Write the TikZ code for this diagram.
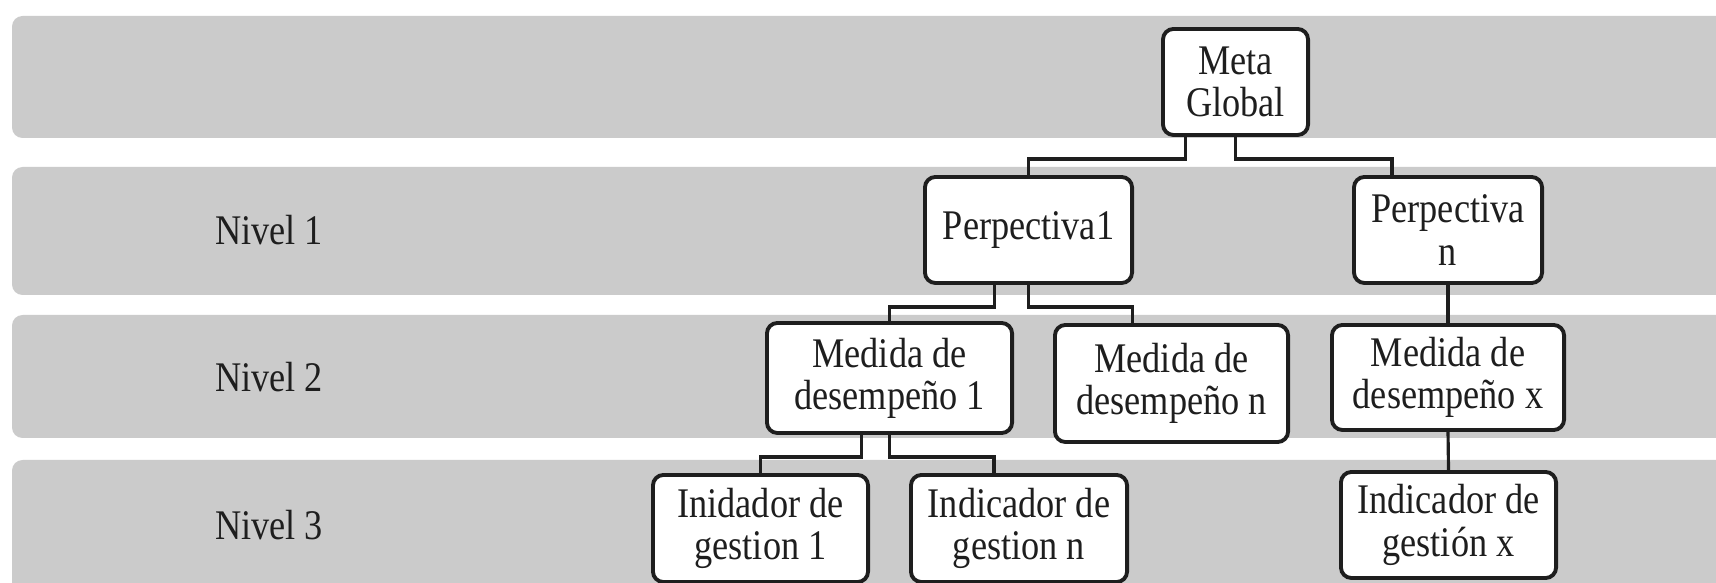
\documentclass[tikz,border=0pt]{standalone}
\usepackage{fontspec}
\setmainfont{Liberation Serif}[FakeStretch=0.86]
\usepackage{tikz}
\usetikzlibrary{calc}
\definecolor{bandgray}{HTML}{CBCBCB}
\definecolor{inkgray}{HTML}{1E1E1E}
\tikzset{
  box/.style={draw=inkgray, line width=1.1pt, rounded corners=3pt, fill=white,
    align=center, inner sep=0pt, text=inkgray, font=\fontsize{12}{12}\selectfont},
  link/.style={draw=inkgray, line width=0.9pt},
  levellabel/.style={text=inkgray, font=\fontsize{12}{12}\selectfont}
}

\begin{document}
\begin{tikzpicture}[x=0.01cm, y=-0.01cm]
  \useasboundingbox (0,0) rectangle (1716,583);
  \clip (0,0) rectangle (1716,583);

  % --- Level bands ---
  \foreach \ya/\yb in {16/138, 167/295, 315/438, 460/640}
    \fill[bandgray, rounded corners=3pt] (12,\ya) rectangle (1780,\yb);

  % --- Level labels ---
  \node[levellabel] (lvl1) at (269,230) {Nivel 1};
  \node[levellabel] (lvl2) at (269,377) {Nivel 2};
  \node[levellabel] (lvl3) at (269,525) {Nivel 3};

  % --- Boxes ---
  \node[box, minimum width=1.45cm, minimum height=1.06cm] (meta)  at (1235.5,82)    {Meta\\Global};
  \node[box, minimum width=2.07cm, minimum height=1.06cm] (perp1) at (1028.5,230)   {Perpectiva1};
  \node[box, minimum width=1.88cm, minimum height=1.06cm] (perpn) at (1448,230)     {Perpectiva\\n};
  \node[box, minimum width=2.45cm, minimum height=1.10cm] (med1)  at (889.5,378)    {Medida de\\desempeño 1};
  \node[box, minimum width=2.33cm, minimum height=1.17cm] (medn)  at (1171.5,383.5) {Medida de\\desempeño n};
  \node[box, minimum width=2.32cm, minimum height=1.05cm] (medx)  at (1448,377.5)   {Medida de\\desempeño x};
  \node[box, minimum width=2.15cm, minimum height=1.07cm] (ind1)  at (760.5,528.5)  {Inidador de\\gestion 1};
  \node[box, minimum width=2.16cm, minimum height=1.07cm] (indn)  at (1019,528.5)   {Indicador de\\gestion n};
  \node[box, minimum width=2.15cm, minimum height=1.06cm] (indx)  at (1448.5,525)   {Indicador de\\gestión x};

  % --- Links ---
  \draw[link] ([xshift=-0.5cm]meta.south) -- ++(0,22) -| (perp1.north);
  \draw[link] (meta.south) -- ++(0,22) -| ([xshift=-0.56cm]perpn.north);

  \draw[link] ([xshift=-0.34cm]perp1.south) -- ++(0,22) -| (med1.north);
  \draw[link] (perp1.south) -- ++(0,22) -| ([xshift=-0.39cm]medn.north);
  \draw[link] (perpn.south) -- (medx.north);

  \draw[link] ([xshift=-0.28cm]med1.south) -- ++(0,22) -| (ind1.north);
  \draw[link] (med1.south) -- ++(0,22) -| ([xshift=-0.25cm]indn.north);
  \draw[link] (medx.south) -- (indx.north);

\end{tikzpicture}
\end{document}
